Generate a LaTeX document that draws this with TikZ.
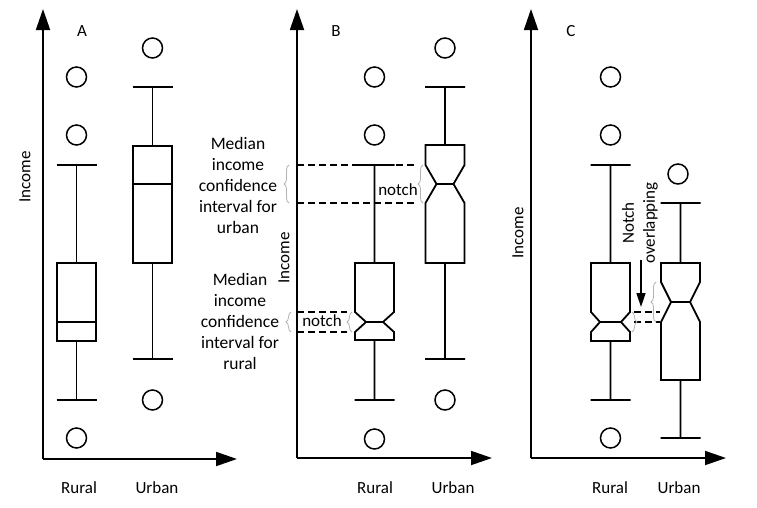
\documentclass[tikz,border=0pt]{standalone}
\usepackage{fontspec}
\setmainfont{Carlito}
\usetikzlibrary{arrows.meta,decorations.pathreplacing}
\newcommand\plainbp[6]{%
 \draw[bpline] (#1-20,#2) -- (#1+20,#2) (#1,#2) -- (#1,#3)
   (#1-19.5,#3) rectangle (#1+19.5,#5) (#1-19.5,#4) -- (#1+19.5,#4)
   (#1,#5) -- (#1,#6) (#1-20,#6) -- (#1+20,#6);}
\newcommand\notchbp[9]{%
 \draw[bpline] (#1-20,#2) -- (#1+20,#2) (#1,#2) -- (#1,#3)
   (#1-19.5,#3) -- (#1+19.5,#3) -- (#1+19.5,#4) -- (#1+19.5-#9,#5) -- (#1+19.5,#6)
   -- (#1+19.5,#7) -- (#1-19.5,#7) -- (#1-19.5,#6) -- (#1-19.5+#9,#5) -- (#1-19.5,#4) -- cycle
   (#1-19.5+#9,#5) -- (#1+19.5-#9,#5)
   (#1,#7) -- (#1,#8) (#1-20,#8) -- (#1+20,#8);}
\newcommand\outlier[2]{\draw[outl] (#1,#2) circle[radius=10pt];}
\begin{document}
\begin{tikzpicture}[x=1pt,y=-1pt,
  axisline/.style={line width=1.8pt,-{Triangle[length=21pt,width=14pt]}},
  bpline/.style={line width=1.8pt,line join=miter},
  outl/.style={line width=1.5pt},
  cidash/.style={line width=1.8pt,dash pattern=on 7pt off 4pt},
  gbrace/.style={draw=gray!60,line width=0.8pt,decorate,decoration={brace,amplitude=5pt}},
  lbl/.style={font=\fontsize{17}{21}\selectfont,inner sep=0pt},
  note/.style={font=\fontsize{17.5}{21}\selectfont,align=center,inner sep=0pt}]
\useasboundingbox (0,0) rectangle (757,507);

% ---------- Panel A ----------
\coordinate (Ao) at (43,459);
\coordinate (Ay) at (43,9);
\coordinate (Ax) at (237,459);
\draw[axisline] (Ao) -- (Ay);
\draw[axisline] (Ao) -- (Ax);
\plainbp{76.5}{165}{263}{322}{341}{400}
\outlier{76.5}{77}\outlier{76.5}{135}\outlier{76.5}{438}
\plainbp{152.5}{87}{146}{184}{263}{359}
\outlier{152.5}{48}\outlier{152.5}{400}
\node[lbl] (tA) at (82,31) {A};
\node[lbl] (rA) at (79,488) {Rural};
\node[lbl] (uA) at (157,488) {Urban};
\node[lbl,rotate=90] (iA) at (25,177) {Income};

% ---------- Panel B ----------
\coordinate (Bo) at (297,458);
\coordinate (By) at (297,9);
\coordinate (Bx) at (492,458);
\draw[axisline] (Bo) -- (By);
\draw[axisline] (Bo) -- (Bx);
\draw[cidash] (297,165) -- (417,165);
\draw[cidash] (297,203) -- (417,203);
\draw[cidash] (297,312) -- (347,312);
\draw[cidash] (297,332) -- (347,332);
\notchbp{374.5}{165}{263}{312}{322}{332}{340}{400}{11}
\outlier{374.5}{77}\outlier{374.5}{135}\outlier{374.5}{439}
\notchbp{445}{87}{145}{165}{184}{203}{263}{359}{11}
\outlier{445}{48}\outlier{445}{400}
\draw[gbrace] (289,203) -- (289,165);
\draw[gbrace] (423,203) -- (423,165);
\draw[gbrace] (291,332) -- (291,312);
\draw[gbrace] (352,332) -- (352,312);
\node[note] (nU) at (238,185) {Median\\income\\confidence\\interval for\\urban};
\node[note] (nR) at (240,321) {Median\\income\\confidence\\interval for\\rural};
\node[lbl] (kU) at (398,190) {notch};
\node[lbl] (kR) at (322,321) {notch};
\node[lbl] (tB) at (336,31) {B};
\node[lbl] (rB) at (375,488) {Rural};
\node[lbl] (uB) at (453,488) {Urban};
\node[lbl,rotate=90] (iB) at (284,258) {Income};

% ---------- Panel C ----------
\coordinate (Co) at (531,458);
\coordinate (Cy) at (531,9);
\coordinate (Cx) at (726,458);
\draw[axisline] (Co) -- (Cy);
\draw[axisline] (Co) -- (Cx);
\draw[cidash] (634,312) -- (660,312);
\draw[cidash] (634,322) -- (660,322);
\notchbp{610.5}{165}{263}{312}{322}{332}{341}{400}{9}
\outlier{610.5}{77}\outlier{610.5}{135}\outlier{610.5}{438}
\notchbp{680.5}{203}{263}{282}{302}{322}{380}{438}{10}
\outlier{678}{174}
\draw[gbrace] (632,312) -- (632,332);
\draw[gbrace] (656,322) -- (656,282);
\node[lbl,rotate=90,align=center] (ov) at (640,223) {Notch\\overlapping};
\coordinate (arS) at (641,260);
\coordinate (arE) at (641,307);
\draw[line width=1.6pt,-{Triangle[length=14pt,width=9pt]}] (arS) -- (arE);
\node[lbl] (tC) at (571,31) {C};
\node[lbl] (rC) at (610,488) {Rural};
\node[lbl] (uC) at (679,488) {Urban};
\node[lbl,rotate=90] (iC) at (518,233) {Income};
\end{tikzpicture}
\end{document}
